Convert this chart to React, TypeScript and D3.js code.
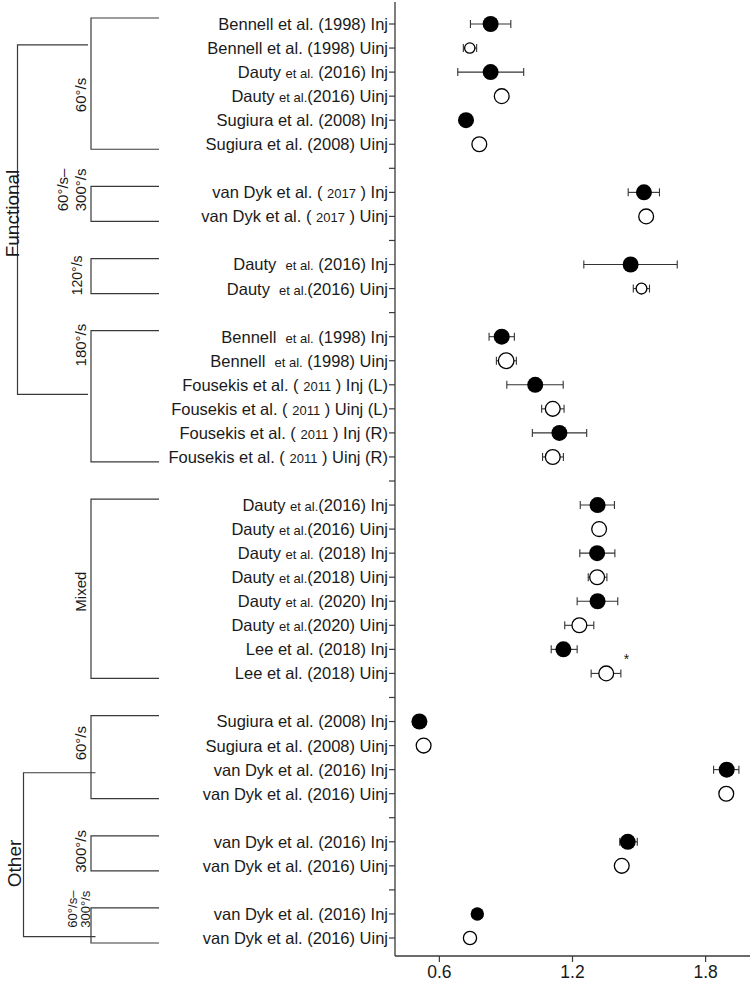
import React from 'react';
import * as d3 from 'd3';

// ---------- data ----------
// "[...]" marks a part of the label printed in a smaller type
const labels: string[] = [
  'Bennell et al. (1998) Inj',
  'Bennell et al. (1998) Uinj',
  'Dauty [et al.] (2016) Inj',
  'Dauty [et al.](2016) Uinj',
  'Sugiura et al. (2008) Inj',
  'Sugiura et al. (2008) Uinj',
  '',
  'van Dyk et al. ( [2017] ) Inj',
  'van Dyk et al. ( [2017] ) Uinj',
  '',
  'Dauty  [et al.] (2016) Inj',
  'Dauty  [et al.](2016) Uinj',
  '',
  'Bennell  [et al.] (1998) Inj',
  'Bennell  [et al.] (1998) Uinj',
  'Fousekis et al. ( [2011] ) Inj (L)',
  'Fousekis et al. ( [2011] ) Uinj (L)',
  'Fousekis et al. ( [2011] ) Inj (R)',
  'Fousekis et al. ( [2011] ) Uinj (R)',
  '',
  'Dauty [et al.](2016) Inj',
  'Dauty [et al.](2016) Uinj',
  'Dauty [et al.] (2018) Inj',
  'Dauty [et al.](2018) Uinj',
  'Dauty [et al.] (2020) Inj',
  'Dauty [et al.](2020) Uinj',
  'Lee et al. (2018) Inj',
  'Lee et al. (2018) Uinj',
  '',
  'Sugiura et al. (2008) Inj',
  'Sugiura et al. (2008) Uinj',
  'van Dyk et al. (2016) Inj',
  'van Dyk et al. (2016) Uinj',
  '',
  'van Dyk et al. (2016) Inj',
  'van Dyk et al. (2016) Uinj',
  '',
  'van Dyk et al. (2016) Inj',
  'van Dyk et al. (2016) Uinj',
];

const means: (number | null)[] = [
  0.831, 0.737, 0.831, 0.881, 0.72, 0.78, null,
  1.522, 1.532, null,
  1.462, 1.511, null,
  0.881, 0.901, 1.032, 1.111, 1.141, 1.111, null,
  1.313, 1.32, 1.311, 1.311, 1.313, 1.231, 1.159, 1.352, null,
  0.51, 0.529, 1.895, 1.893, null,
  1.449, 1.422, null,
  0.771, 0.738,
];

const lows: (number | null)[] = [
  0.74, 0.708, 0.683, null, null, null, null,
  1.451, null, null,
  1.251, 1.474, null,
  0.824, 0.857, 0.904, 1.061, 1.019, 1.065, null,
  1.235, null, 1.233, 1.271, 1.221, 1.165, 1.104, 1.284, null,
  null, null, 1.836, null, null,
  1.413, null, null,
  null, null,
];

const highs: (number | null)[] = [
  0.922, 0.768, 0.98, null, null, null, null,
  1.592, null, null,
  1.672, 1.547, null,
  0.938, 0.947, 1.158, 1.162, 1.264, 1.159, null,
  1.389, null, 1.391, 1.355, 1.404, 1.296, 1.221, 1.418, null,
  null, null, 1.95, null, null,
  1.492, null, null,
  null, null,
];

// relative marker size
const markerScale: number[] = [
  1, 0.72, 1, 1, 1, 1, 1,
  1, 1, 1,
  1, 0.75, 1,
  1, 1.05, 1, 1, 1, 1, 1,
  1, 1, 1, 1, 1, 1, 1, 1, 1,
  1, 1, 1, 1, 1,
  1, 1, 1,
  0.84, 0.9,
];

const significantRows: number[] = [27];

const xTicks: number[] = [0.6, 1.2, 1.8];
const xDomain: [number, number] = [0.4, 2.0];

// sub-group brackets (rows inclusive), label centre row
const subGroupLines: string[][] = [
  ['60°/s'], ['60°/s–', '300°/s'], ['120°/s'], ['180°/s'], ['Mixed'],
  ['60°/s'], ['300°/s'], ['60°/s–', '300°/s'],
];
const subGroupFirst: number[] = [0, 7, 10, 13, 20, 29, 34, 37];
const subGroupLast: number[] = [5, 8, 11, 18, 27, 32, 35, 38];
const subGroupLabelRow: number[] = [2.95, 6.9, 10.45, 13.35, 23.6, 29.9, 34.4, 36.8];
const subGroupFont: number[] = [15, 15, 14, 15, 15, 15, 15, 13];

// outer groups: name, rows where the bracket joins its sub-groups
const outerNames: string[] = ['Functional', 'Other'];
const outerTopRow: number[] = [0.87, 31.13];
const outerBottomRow: number[] = [15.4, 37.94];
const outerLabelRow: number[] = [7.88, 34.9];

// ---------- layout ----------
const W = 752;
const H = 984;
const axisX = 395;
const axisRight = 750;
const axisBottom = 956;
const FONT = 'Arial, "Liberation Sans", Helvetica, sans-serif';
const LINE = '#3a3a3a';

function parseLabel(s: string) {
  const parts: { t: string; small: boolean }[] = [];
  const re = /\[([^\]]*)\]/g;
  let last = 0;
  let m: RegExpExecArray | null;
  while ((m = re.exec(s))) {
    if (m.index > last) parts.push({ t: s.slice(last, m.index), small: false });
    parts.push({ t: m[1], small: true });
    last = m.index + m[0].length;
  }
  if (last < s.length) parts.push({ t: s.slice(last), small: false });
  return parts;
}

export default function App() {
  const x = d3.scaleLinear().domain(xDomain).range([axisX, axisRight]);
  const y = d3.scaleLinear().domain([0, 38]).range([24, 938]);
  const rows = d3.range(labels.length);

  return (
    <svg
      width={W}
      height={H}
      viewBox={`0 0 ${W} ${H}`}
      style={{ position: 'absolute', left: 0, top: 0, background: '#fff' }}
      fontFamily={FONT}
    >
      <rect x={0} y={0} width={W} height={H} fill="#fff" />

      {/* y axis */}
      <line x1={axisX} x2={axisX} y1={2} y2={axisBottom} stroke={LINE} strokeWidth={1.3} />
      {rows.map((i) => (
        <line key={'yt' + i} x1={axisX - 6} x2={axisX} y1={y(i)} y2={y(i)} stroke={LINE} strokeWidth={1.2} />
      ))}
      {rows.map((i) =>
        labels[i] ? (
          <text
            key={'yl' + i}
            x={axisX - 7}
            y={y(i)}
            dy="0.36em"
            textAnchor="end"
            fontSize={16.5}
            fill="#1a1a1a"
            style={{ whiteSpace: 'pre' }}
          >
            {parseLabel(labels[i]).map((p, k) => (
              <tspan key={k} fontSize={p.small ? 13 : 16.5}>
                {p.t}
              </tspan>
            ))}
          </text>
        ) : null
      )}

      {/* x axis */}
      <line x1={axisX} x2={axisRight} y1={axisBottom} y2={axisBottom} stroke={LINE} strokeWidth={1.3} />
      {xTicks.map((t) => (
        <g key={'xt' + t}>
          <line x1={x(t)} x2={x(t)} y1={axisBottom} y2={axisBottom + 6} stroke={LINE} strokeWidth={1.2} />
          <text x={x(t)} y={978} textAnchor="middle" fontSize={17.5} fill="#1a1a1a">
            {d3.format('.1f')(t)}
          </text>
        </g>
      ))}

      {/* error bars */}
      {rows.map((i) => {
        const lo = lows[i];
        const hi = highs[i];
        if (lo == null || hi == null) return null;
        return (
          <g key={'eb' + i} stroke="#333" strokeWidth={1.1}>
            <line x1={x(lo)} x2={x(hi)} y1={y(i)} y2={y(i)} />
            <line x1={x(lo)} x2={x(lo)} y1={y(i) - 4} y2={y(i) + 4} />
            <line x1={x(hi)} x2={x(hi)} y1={y(i) - 4} y2={y(i) + 4} />
          </g>
        );
      })}

      {/* markers */}
      {rows.map((i) => {
        const v = means[i];
        if (v == null) return null;
        const filled = /\bInj\b/.test(labels[i]);
        const r = 8 * markerScale[i];
        return (
          <circle
            key={'pt' + i}
            cx={x(v)}
            cy={y(i)}
            r={filled ? r : r - 0.6}
            fill={filled ? '#000' : '#fff'}
            stroke="#000"
            strokeWidth={filled ? 0 : 1.3}
          />
        );
      })}

      {/* significance */}
      {significantRows.map((i) => (
        <text key={'sig' + i} x={x(highs[i] ?? means[i] ?? 0) + 3} y={y(i) - 9} fontSize={14} fill="#1a1a1a">
          *
        </text>
      ))}

      {/* sub-group brackets */}
      {subGroupLines.map((lines, g) => {
        const top = y(subGroupFirst[g]) - 6;
        const bot = y(subGroupLast[g]) + 5;
        const vx = 91;
        const rx = 159;
        const fs = subGroupFont[g];
        const cy = y(subGroupLabelRow[g]);
        const baseRight = fs === 14 ? 82 : fs === 13 ? 90 : 86;
        const lineGap = fs === 13 ? 13 : 18;
        return (
          <g key={'sg' + g}>
            <path
              d={`M${rx},${top}H${vx}V${bot}H${rx}`}
              fill="none"
              stroke={LINE}
              strokeWidth={1.2}
            />
            {lines.map((ln, k) => {
              const bx = baseRight - (lines.length - 1 - k) * lineGap;
              return (
                <text
                  key={k}
                  transform={`translate(${bx},${cy}) rotate(-90)`}
                  textAnchor="middle"
                  fontSize={fs}
                  fill="#1a1a1a"
                >
                  {ln}
                </text>
              );
            })}
          </g>
        );
      })}

      {/* outer brackets */}
      {outerNames.map((name, g) => {
        const vx = g === 0 ? 17.5 : 23.5;
        const ex = g === 0 ? 88 : 95.5;
        const top = y(outerTopRow[g]);
        const bot = y(outerBottomRow[g]);
        return (
          <g key={'og' + g}>
            <path
              d={`M${ex},${top}H${vx}V${bot}H${ex}`}
              fill="none"
              stroke={LINE}
              strokeWidth={1.2}
            />
            <text
              transform={`translate(${g === 0 ? 19 : 21},${y(outerLabelRow[g])}) rotate(-90)`}
              textAnchor="middle"
              fontSize={19}
              fill="#1a1a1a"
            >
              {name}
            </text>
          </g>
        );
      })}
    </svg>
  );
}
